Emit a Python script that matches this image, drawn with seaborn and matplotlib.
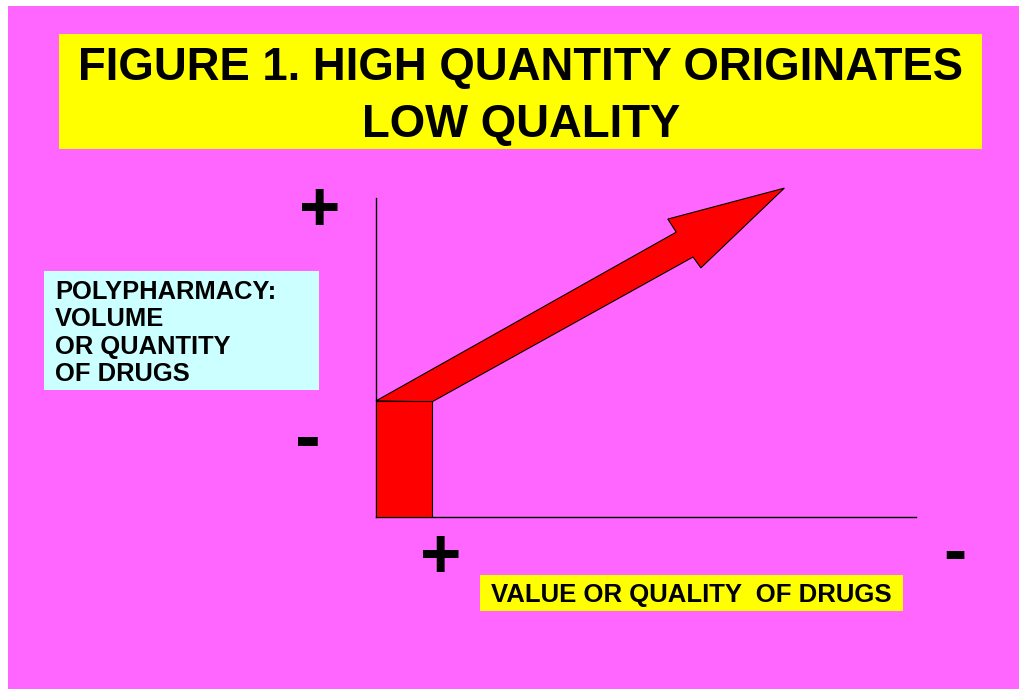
import matplotlib
matplotlib.use("Agg")
import matplotlib.pyplot as plt
import seaborn as sns
import pandas as pd
from matplotlib.patches import Polygon, Rectangle

# ---- data / text ----
title_lines = ["FIGURE 1. HIGH QUANTITY ORIGINATES", "LOW QUALITY"]
y_label_lines = ["POLYPHARMACY:", "VOLUME", "OR QUANTITY", "OF DRUGS"]
x_label = "VALUE OR QUALITY  OF DRUGS"
y_marks = ["+", "-"]
x_marks = ["+", "-"]
bar_category = ["start"]
bar_height = [3.64]
arrow_x = [-0.5, 4.86, 4.71, 6.79, 5.30, 5.16, 0.5]
arrow_y = [3.64, 8.93, 9.34, 10.31, 7.81, 8.15, 3.61]

PINK = "#FF66FF"
YELLOW = "#FFFF00"
CYAN = "#CCFFFF"

sns.set_theme(style="white")
plt.rcParams["font.family"] = ["Liberation Sans", "DejaVu Sans"]

W, H = 1020, 689
fig = plt.figure(figsize=(W / 100, H / 100), dpi=100, facecolor=PINK)


def fx(px):
    return px / W


def fy(py):
    return 1 - py / H


def box(x0, y0, x1, y1, color):
    fig.add_artist(Rectangle((fx(x0), fy(y1)), (x1 - x0) / W, (y1 - y0) / H,
                             transform=fig.transFigure, facecolor=color,
                             edgecolor="none", zorder=0))


# white page margins
box(0, 0, W, 6, "white")
box(0, 0, 8, H, "white")

# boxes
box(59, 34, 982, 149, YELLOW)
box(44, 271, 319, 390, CYAN)
box(480, 575, 903, 611, YELLOW)

# title
fig.text(fx(521), fy(80), title_lines[0], ha="center", va="baseline",
         fontsize=32.8, fontweight="bold", color="black")
fig.text(fx(521), fy(137), title_lines[1], ha="center", va="baseline",
         fontsize=32.8, fontweight="bold", color="black")

# y label box text
for i, line in enumerate(y_label_lines):
    fig.text(fx(55), fy(299 + i * 27.3), line, ha="left", va="baseline",
             fontsize=18.4, fontweight="bold", color="black")

# x label
fig.text(fx(691), fy(602), x_label, ha="center", va="baseline",
         fontsize=18.5, fontweight="bold", color="black")

# plus / minus marks
fig.text(fx(320), fy(213), y_marks[0], ha="center", va="center",
         fontsize=51, fontweight="bold", color="black")
fig.text(fx(308), fy(441), y_marks[1], ha="center", va="center",
         fontsize=56, fontweight="bold", color="black")
fig.text(fx(441), fy(560), x_marks[0], ha="center", va="center",
         fontsize=51, fontweight="bold", color="black")
fig.text(fx(955), fy(555), x_marks[1], ha="center", va="center",
         fontsize=50, fontweight="bold", color="black")

# axes
ax = fig.add_axes([fx(376), fy(517), 540 / W, 319 / H])
ax.set_facecolor("none")
df = pd.DataFrame({"cat": bar_category, "h": bar_height})
ax.add_patch(Polygon(list(zip(arrow_x, arrow_y)), closed=True, facecolor="red",
                     edgecolor="black", linewidth=0.8, clip_on=False, zorder=2))
sns.barplot(data=df, x="cat", y="h", color="red", width=1, saturation=1,
            edgecolor="black", linewidth=0.8, ax=ax, zorder=3)
ax.set_xlim(-0.5, 9.14)
ax.set_ylim(0, 10)
ax.set_xticks([])
ax.set_yticks([])
ax.set_xlabel("")
ax.set_ylabel("")
for s in ["top", "right"]:
    ax.spines[s].set_visible(False)
for s in ["left", "bottom"]:
    ax.spines[s].set_visible(True)
    ax.spines[s].set_color("black")
    ax.spines[s].set_linewidth(1.0)

fig.savefig("out.png", dpi=100, facecolor=PINK)
